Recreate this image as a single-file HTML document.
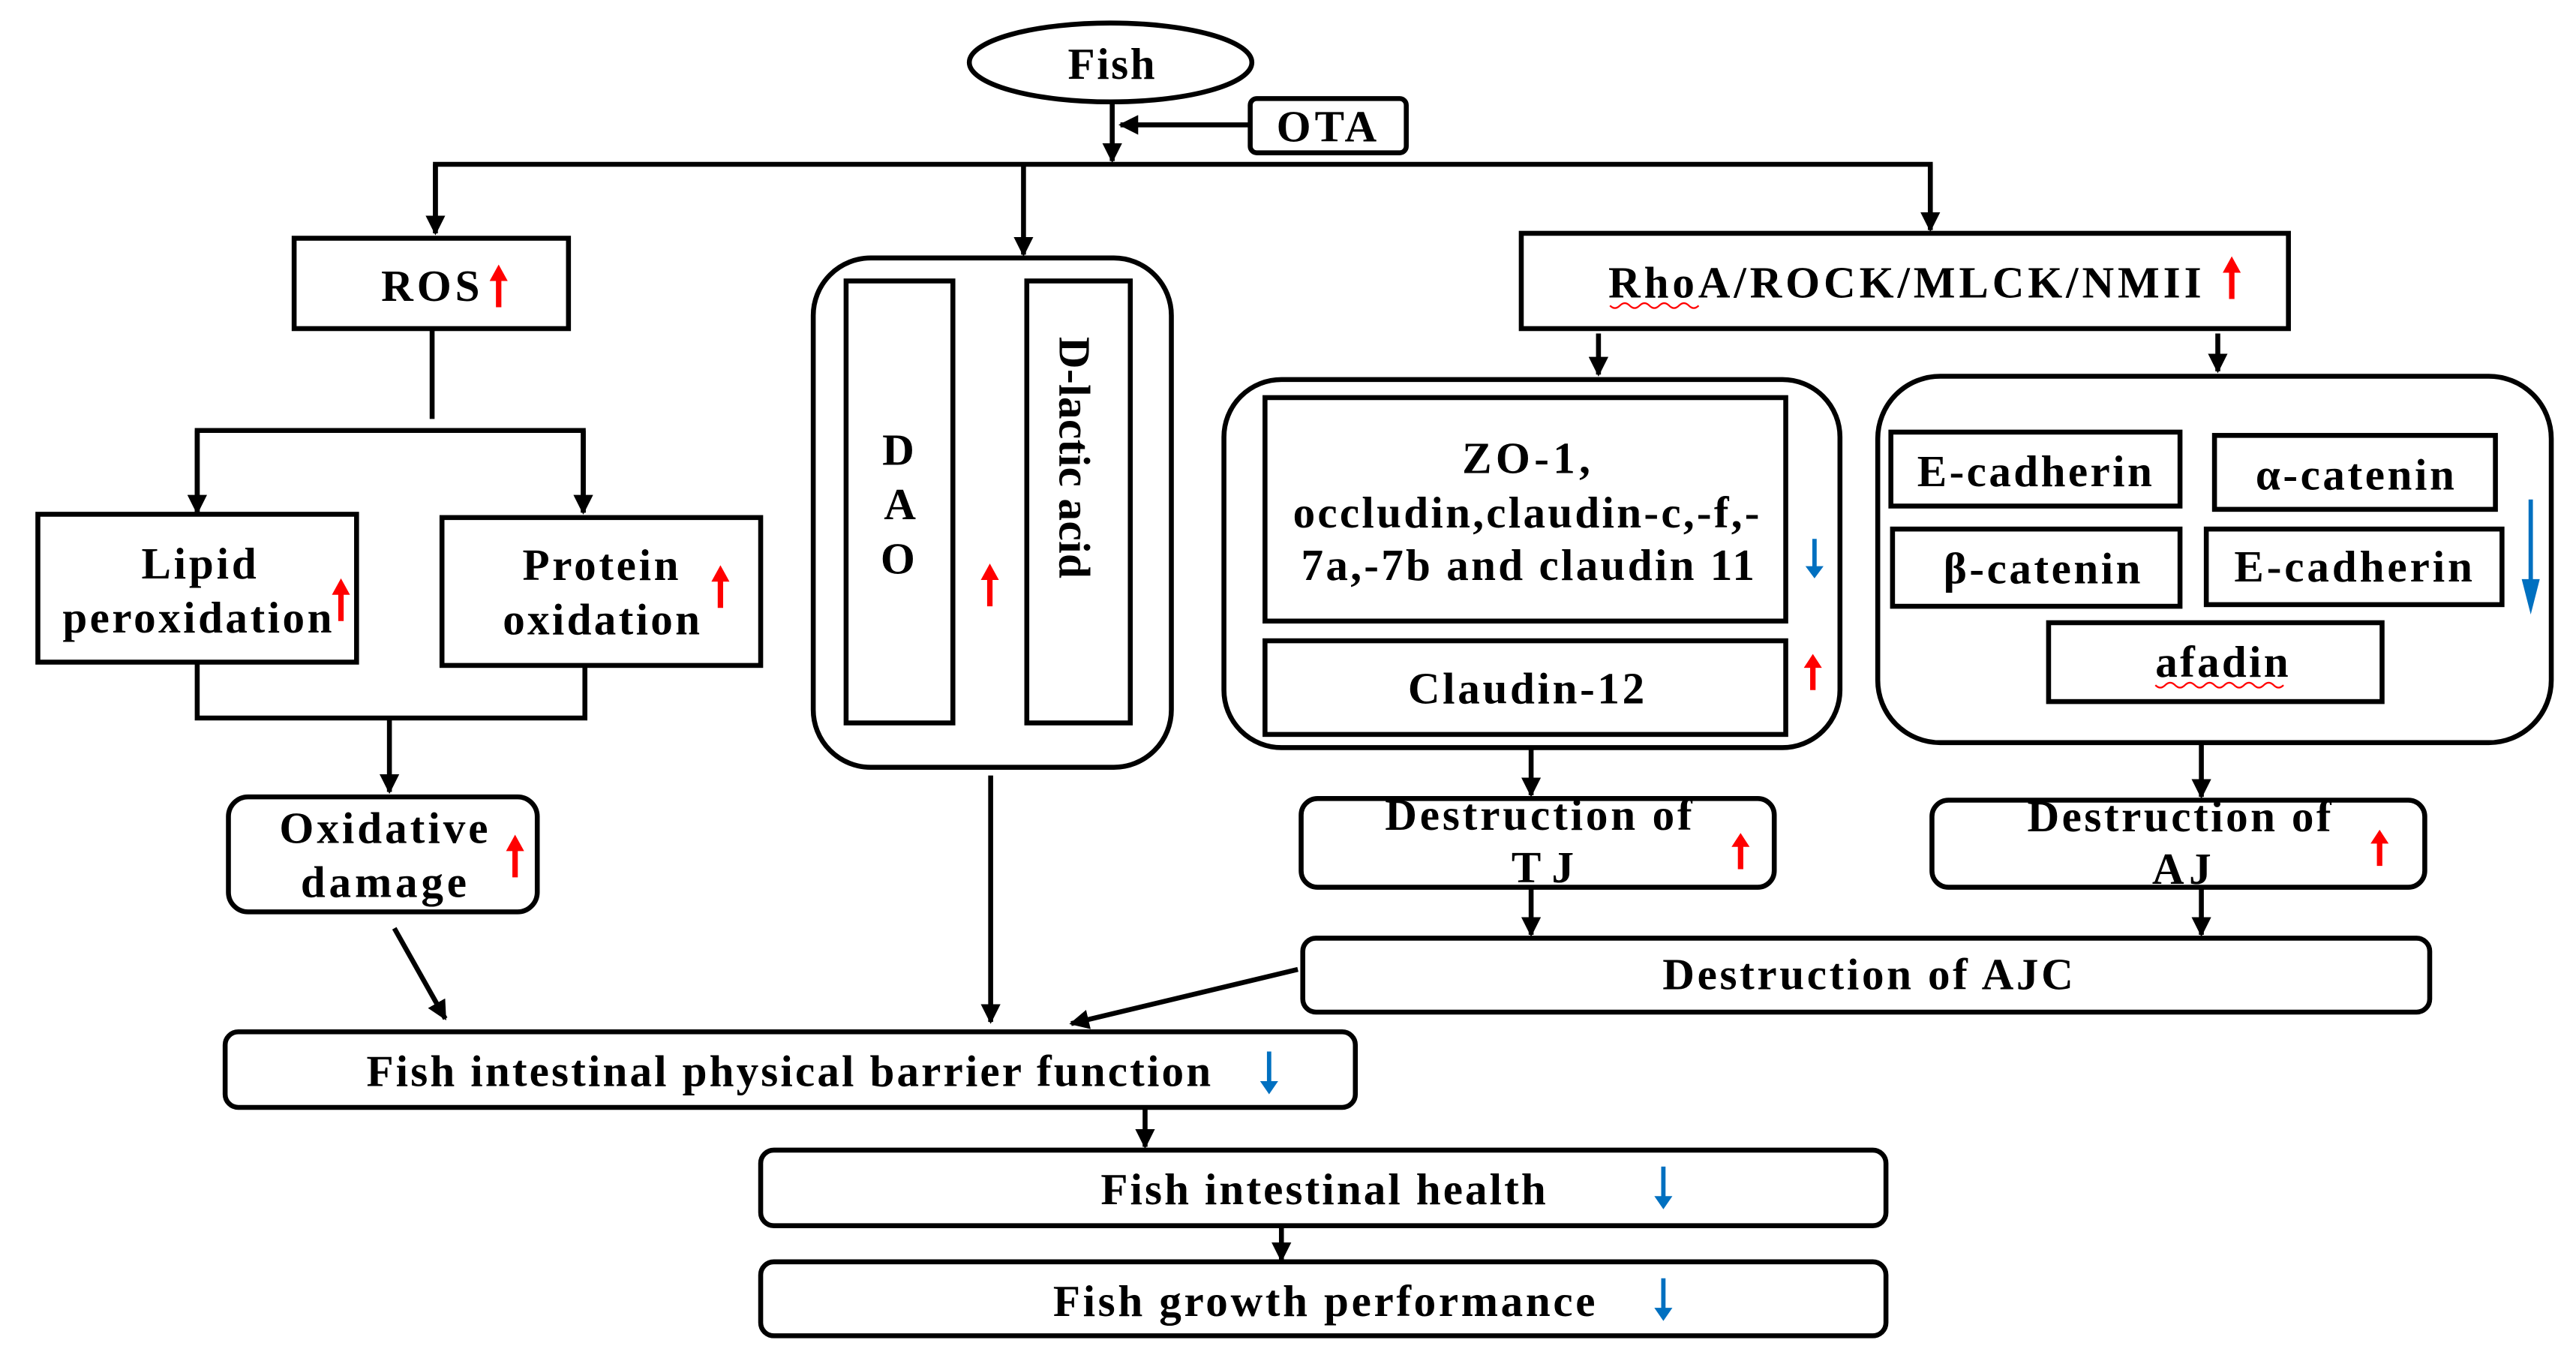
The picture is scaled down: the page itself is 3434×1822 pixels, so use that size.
<!DOCTYPE html>
<html><head><meta charset="utf-8"><style>
html,body{margin:0;padding:0;background:#fff}
svg{display:block}
</style></head><body>
<svg width="3434" height="1822" viewBox="0 0 1568 832" xmlns="http://www.w3.org/2000/svg">
<defs>
<marker id="a" viewBox="0 0 10 10" refX="9" refY="5" markerWidth="4" markerHeight="4" orient="auto"><path d="M0,0L10,5L0,10z" fill="#000"/></marker>
<symbol id="r" viewBox="0 0 10 26" preserveAspectRatio="none" overflow="visible"><path d="M3.5,26V10H0L5,0L10,10H6.5V26z" fill="#f00"/></symbol>
<symbol id="b" viewBox="0 0 10 26" preserveAspectRatio="none" overflow="visible"><path d="M3.8,0V18H0L5,26L10,18H6.2V0z" fill="#0070c0"/></symbol>
</defs>
<g fill="none" stroke="#000" stroke-width="3">
<ellipse cx="676" cy="38" rx="86" ry="24"/>
<rect x="761" y="60" width="95" height="33" rx="4"/>
<line x1="761" y1="76" x2="682" y2="76" marker-end="url(#a)"/>
<line x1="677" y1="62" x2="677" y2="98" marker-end="url(#a)"/>
<polyline points="265,140 265,100 1175,100 1175,138"/>
<line x1="265" y1="100" x2="265" y2="142" marker-end="url(#a)"/>
<line x1="623" y1="100" x2="623" y2="155" marker-end="url(#a)"/>
<line x1="1175" y1="100" x2="1175" y2="140" marker-end="url(#a)"/>
<rect x="179" y="145" width="167" height="55"/>
<polyline points="263,200 263,255"/>
<polyline points="120,312 120,262 355,262 355,312"/>
<line x1="120" y1="262" x2="120" y2="312" marker-end="url(#a)"/>
<line x1="355" y1="262" x2="355" y2="312" marker-end="url(#a)"/>
<rect x="23" y="313" width="194" height="90"/>
<rect x="269" y="315" width="194" height="90"/>
<polyline points="120,403 120,437 356,437 356,405"/>
<line x1="237" y1="437" x2="237" y2="482" marker-end="url(#a)"/>
<rect x="139" y="485" width="188" height="70" rx="12"/>
<line x1="240" y1="565" x2="271" y2="620" marker-end="url(#a)"/>
<rect x="495" y="157" width="218" height="310" rx="35"/>
<rect x="515" y="171" width="65" height="269"/>
<rect x="625" y="171" width="63" height="269"/>
<line x1="603" y1="472" x2="603" y2="622" marker-end="url(#a)"/>
<rect x="926" y="142" width="467" height="58"/>
<line x1="973" y1="203" x2="973" y2="228" marker-end="url(#a)"/>
<line x1="1350" y1="203" x2="1350" y2="226" marker-end="url(#a)"/>
<rect x="745" y="231" width="375" height="224" rx="35"/>
<rect x="770" y="242" width="317" height="136"/>
<rect x="770" y="390" width="317" height="57"/>
<rect x="1143" y="229" width="410" height="223" rx="38"/>
<rect x="1151" y="263" width="176" height="45"/>
<rect x="1348" y="265" width="171" height="45"/>
<rect x="1152" y="322" width="175" height="47"/>
<rect x="1343" y="322" width="180" height="46"/>
<rect x="1247" y="379" width="203" height="48"/>
<line x1="932" y1="455" x2="932" y2="484" marker-end="url(#a)"/>
<line x1="1340" y1="452" x2="1340" y2="485" marker-end="url(#a)"/>
<rect x="792" y="486" width="288" height="54" rx="10"/>
<rect x="1176" y="487" width="300" height="53" rx="10"/>
<line x1="932" y1="540" x2="932" y2="569" marker-end="url(#a)"/>
<line x1="1340" y1="540" x2="1340" y2="569" marker-end="url(#a)"/>
<rect x="793" y="571" width="686" height="45" rx="8"/>
<line x1="790" y1="590" x2="652" y2="623" marker-end="url(#a)"/>
<rect x="137" y="628" width="688" height="46" rx="8"/>
<line x1="697" y1="674" x2="697" y2="698" marker-end="url(#a)"/>
<rect x="463" y="700" width="685" height="46" rx="8"/>
<line x1="780" y1="746" x2="780" y2="767" marker-end="url(#a)"/>
<rect x="463" y="768" width="685" height="45" rx="8"/>
</g>
<g font-family="Liberation Serif, serif" font-weight="bold" font-size="27" fill="#000">
<text x="650" y="48" textLength="53">Fish</text>
<text x="777" y="86" textLength="61">OTA</text>
<text x="232" y="183" textLength="60">ROS</text>
<text x="86" y="352" textLength="70">Lipid</text>
<text x="38" y="385" textLength="164">peroxidation</text>
<text x="318" y="353" textLength="95">Protein</text>
<text x="306" y="386" textLength="120">oxidation</text>
<text x="170" y="513" textLength="127">Oxidative</text>
<text x="183" y="546" textLength="101">damage</text>
<text x="537" y="283">D</text>
<text x="538" y="316">A</text>
<text x="536" y="349">O</text>
<text x="0" y="0" transform="translate(645,205) rotate(90)" textLength="147">D-lactic acid</text>
<text x="979" y="181" textLength="361">RhoA/ROCK/MLCK/NMII</text>
<text x="890" y="288" textLength="78">ZO-1,</text>
<text x="787" y="321" textLength="284">occludin,claudin-c,-f,-</text>
<text x="792" y="353" textLength="276">7a,-7b and claudin 11</text>
<text x="857" y="428" textLength="144">Claudin-12</text>
<text x="1167" y="296" textLength="143">E-cadherin</text>
<text x="1373" y="298" textLength="121">α-catenin</text>
<text x="1183" y="355" textLength="120">β-catenin</text>
<text x="1360" y="354" textLength="145">E-cadherin</text>
<text x="1312" y="412" textLength="81">afadin</text>
<text x="843" y="505" textLength="187">Destruction of</text>
<text x="920" y="537" textLength="38">TJ</text>
<text x="1234" y="506" textLength="185">Destruction of</text>
<text x="1310" y="538" textLength="36">AJ</text>
<text x="1012" y="602" textLength="250">Destruction of AJC</text>
<text x="223" y="661" textLength="514">Fish intestinal physical barrier function</text>
<text x="670" y="733" textLength="271">Fish intestinal health</text>
<text x="641" y="801" textLength="330">Fish growth performance</text>
</g>
<path d="M980,186 q3,3 6,0 t6,0 t6,0 t6,0 t6,0 t6,0 t6,0 t6,0 t6,0" stroke="#f00" stroke-width="1" fill="none"/>
<path d="M1312,417 q3,3 6,0 t6,0 t6,0 t6,0 t6,0 t6,0 t6,0 t6,0 t6,0 t6,0 t6,0 t6,0 t6,0" stroke="#f00" stroke-width="1" fill="none"/>
<use href="#r" x="298" y="161" width="11" height="26"/>
<use href="#r" x="202" y="352" width="11" height="26"/>
<use href="#r" x="433" y="344" width="11" height="26"/>
<use href="#r" x="308" y="508" width="11" height="26"/>
<use href="#r" x="597" y="343" width="11" height="26"/>
<use href="#r" x="1353" y="156" width="11" height="26"/>
<use href="#r" x="1098" y="398" width="11" height="22"/>
<use href="#r" x="1054" y="507" width="11" height="22"/>
<use href="#r" x="1443" y="505" width="11" height="22"/>
<use href="#b" x="1099" y="328" width="11" height="24"/>
<use href="#b" x="1535" y="304" width="11" height="70"/>
<use href="#b" x="767" y="640" width="11" height="26"/>
<use href="#b" x="1007" y="710" width="11" height="26"/>
<use href="#b" x="1007" y="778" width="11" height="26"/>
</svg>
</body></html>
